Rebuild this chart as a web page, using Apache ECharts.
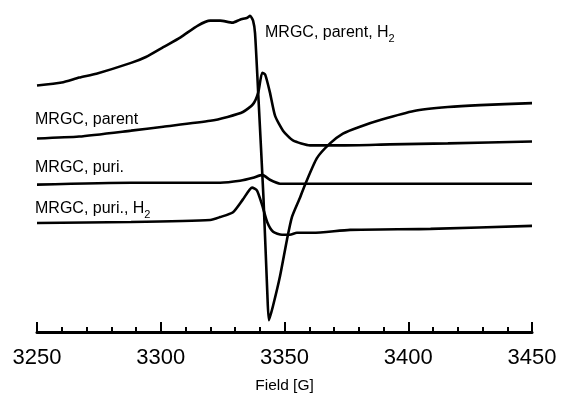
<!DOCTYPE html>
<html>
<head>
<meta charset="utf-8">
<style>
  html, body { margin: 0; padding: 0; background: #fff; }
  #chart { width: 561px; height: 399px; }
</style>
<script src="https://cdn.jsdelivr.net/npm/echarts@6/dist/echarts.min.js"></script>
</head>
<body>
<div id="chart"></div>
<script>
// field ticks (G)
var fieldTicks = [3250, 3300, 3350, 3400, 3450]

// signal in arbitrary units, each trace keeps its own vertical offset
var parentH2Field = [3250, 3260, 3267, 3274, 3288, 3294, 3301, 3308, 3315, 3320, 3324, 3329, 3332, 3335, 3336.1, 3337.3, 3338.1, 3339.5, 3341.5, 3343.1, 3343.7, 3345.4, 3348.2, 3351, 3353, 3356.3, 3358.3, 3363.1, 3368.4, 3373.6, 3380.5, 3389, 3402.3, 3416, 3429, 3450]
var parentH2Signal = [251, 254, 259, 263, 274, 280, 290, 300, 312, 317, 317, 315, 318, 320, 322, 317, 304, 237, 137, 37, 12, 27, 57, 94, 117, 137, 150, 177, 192, 202, 209, 216, 225, 229, 231, 233]

var parentField = [3250, 3267, 3288, 3301, 3320, 3327, 3333.2, 3337.3, 3339.4, 3341, 3342.2, 3344.1, 3346.2, 3349.4, 3353.4, 3360.3, 3367.2, 3373.6, 3392.6, 3416, 3450]
var parentSignal = [197, 199, 205, 209, 215, 219, 224, 232, 244, 264, 262, 244, 220, 205, 195, 190, 190, 190, 191, 192, 194]

var puriField = [3250, 3288, 3320, 3324, 3332, 3337.3, 3341, 3344.1, 3348.2, 3360, 3392.6, 3450]
var puriSignal = [150, 152, 152, 152, 154, 157, 160, 155, 151, 151, 151, 151]

var puriH2Field = [3250, 3288, 3320, 3324, 3329.2, 3333.2, 3336.9, 3338.9, 3341, 3343, 3345.4, 3349, 3352.2, 3355, 3361.5, 3376.5, 3409, 3450]
var puriH2Signal = [111, 112, 114, 117, 122, 135, 147, 144, 129, 112, 102, 99, 99, 101, 101, 104, 105, 108]

var traceLabels = ['MRGC, parent, H{sub|2}', 'MRGC, parent', 'MRGC, puri.', 'MRGC, puri., H{sub|2}']

function pairs(xs, ys) {
  return xs.map(function (x, i) { return [x, ys[i]] })
}

var font = '"Liberation Sans", Arial, Helvetica, sans-serif'

function trace(name, xs, ys) {
  return {
    name: name,
    type: 'line',
    data: pairs(xs, ys),
    smooth: 0.2,
    showSymbol: false,
    silent: true,
    lineStyle: { color: '#000', width: 2.6 }
  }
}

function label(text, x, y) {
  return {
    type: 'text',
    x: x,
    y: y,
    style: {
      text: text,
      fill: '#000',
      font: '16px ' + font,
      lineHeight: 22,
      verticalAlign: 'middle',
      rich: {
        sub: { fontSize: 11, fontFamily: font, lineHeight: 11, verticalAlign: 'bottom' }
      }
    }
  }
}

var chart = echarts.init(document.getElementById('chart'))

chart.setOption({
  backgroundColor: '#fff',
  animation: false,
  grid: { left: 37, right: 29, top: 0, bottom: 61 },
  xAxis: {
    type: 'value',
    min: fieldTicks[0],
    max: fieldTicks[fieldTicks.length - 1],
    interval: 50,
    name: 'Field [G]',
    nameLocation: 'middle',
    nameGap: 46,
    nameTextStyle: { color: '#000', fontSize: 15.5, fontFamily: font },
    axisLine: { lineStyle: { color: '#000', width: 3 } },
    axisTick: { inside: true, length: 10, lineStyle: { color: '#000', width: 2 } },
    minorTick: { show: true, splitNumber: 5, length: 5, lineStyle: { color: '#000', width: 2 } },
    axisLabel: {
      color: '#000',
      fontSize: 22,
      fontFamily: font,
      margin: 15,
      formatter: function (v) { return String(v) }
    },
    splitLine: { show: false }
  },
  yAxis: {
    type: 'value',
    min: 0,
    max: 338,
    show: false
  },
  series: [
    trace('MRGC, parent, H2', parentH2Field, parentH2Signal),
    trace('MRGC, parent', parentField, parentSignal),
    trace('MRGC, puri.', puriField, puriSignal),
    trace('MRGC, puri., H2', puriH2Field, puriH2Signal)
  ],
  graphic: [
    label(traceLabels[0], 265, 33),
    label(traceLabels[1], 35, 120),
    label(traceLabels[2], 35, 168),
    label(traceLabels[3], 35, 209)
  ]
})
</script>
</body>
</html>
